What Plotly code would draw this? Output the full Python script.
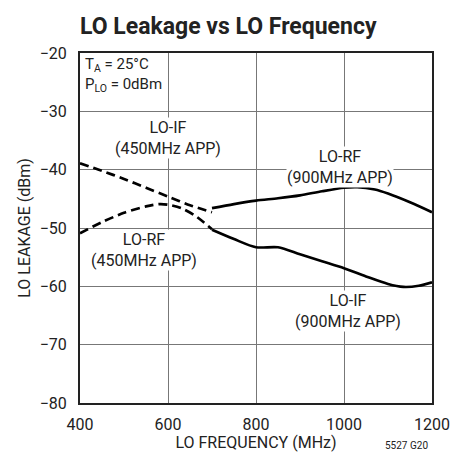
import plotly.graph_objects as go

# LO-IF, 450MHz application (dashed)
if450_freq = [400, 450, 500, 550, 600, 650, 700]
if450_dbm = [-38.9, -40.2, -41.6, -43.1, -44.6, -46.1, -47.3]

# LO-RF, 450MHz application (dashed)
rf450_freq = [400, 450, 500, 550, 580, 600, 630, 660, 700]
rf450_dbm = [-50.9, -49.0, -47.4, -46.3, -45.9, -46.0, -46.6, -47.8, -50.2]

# LO-RF, 900MHz application (solid)
rf900_freq = [700, 750, 800, 850, 900, 950, 1000, 1030, 1070, 1100, 1150, 1200]
rf900_dbm = [-46.6, -45.9, -45.3, -44.9, -44.4, -43.7, -43.1, -43.0, -43.4, -44.1, -45.6, -47.3]

# LO-IF, 900MHz application (solid)
if900_freq = [700, 750, 800, 850, 900, 950, 1000, 1050, 1100, 1135, 1170, 1200]
if900_dbm = [-50.3, -51.9, -53.3, -53.3, -54.5, -55.7, -56.9, -58.3, -59.6, -60.1, -59.9, -59.3]

x_ticks = [400, 600, 800, 1000, 1200]
y_ticks = [-80, -70, -60, -50, -40, -30, -20]
y_tick_text = ["\u221280", "\u221270", "\u221260", "\u221250", "\u221240", "\u221230", "\u221220"]

FONT = "Roboto, Arial, sans-serif"
INK = "#222"

fig = go.Figure()
line_style = dict(color="black", width=2.7, shape="spline", smoothing=0.8)
fig.add_trace(go.Scatter(x=if450_freq, y=if450_dbm, mode="lines",
                         line=dict(dash="9px,5px", **line_style)))
fig.add_trace(go.Scatter(x=rf450_freq, y=rf450_dbm, mode="lines",
                         line=dict(dash="9px,5px", **line_style)))
fig.add_trace(go.Scatter(x=rf900_freq, y=rf900_dbm, mode="lines", line=line_style))
fig.add_trace(go.Scatter(x=if900_freq, y=if900_dbm, mode="lines", line=line_style))

ann_font = dict(family=FONT, size=16, color=INK)
annotations = [
    dict(x=0.012, y=0.997, xref="paper", yref="paper", xanchor="left", yanchor="top",
         text="T<sub>A</sub> = 25°C<br>P<sub>LO</sub> = 0dBm", align="left",
         showarrow=False, font=dict(family=FONT, size=15, color=INK),
         bgcolor="white", borderpad=0),
    dict(x=600, y=-34.6, text="LO-IF<br>(450MHz APP)", showarrow=False, font=ann_font,
         bgcolor="white", borderpad=0),
    dict(x=990, y=-39.5, text="LO-RF<br>(900MHz APP)", showarrow=False, font=ann_font,
         bgcolor="white", borderpad=0),
    dict(x=545, y=-53.8, text="LO-RF<br>(450MHz APP)", showarrow=False, font=ann_font,
         bgcolor="white", borderpad=0),
    dict(x=1010, y=-64.3, text="LO-IF<br>(900MHz APP)", showarrow=False, font=ann_font,
         bgcolor="white", borderpad=0),
    dict(x=0.995, y=-0.12, xref="paper", yref="paper", xanchor="right", yanchor="middle",
         text="5527 G20", showarrow=False, font=dict(family=FONT, size=10, color=INK)),
]

fig.update_layout(
    width=448, height=444,
    margin=dict(l=72, r=24, t=45, b=49),
    paper_bgcolor="white", plot_bgcolor="white",
    showlegend=False,
    title=dict(text="<b>LO Leakage vs LO Frequency</b>", x=72/448, xanchor="left",
               y=1 - 18/444, yanchor="middle",
               font=dict(family=FONT, size=23, color=INK)),
    annotations=annotations,
    font=dict(family=FONT, color=INK),
)
fig.update_xaxes(range=[400, 1200], tickvals=x_ticks, ticks="", showgrid=True,
                 gridcolor="#777", gridwidth=1.3, showline=True, linecolor=INK,
                 linewidth=2, mirror=True, zeroline=False, ticklabelstandoff=6,
                 automargin=False,
                 tickfont=dict(family=FONT, size=16, color=INK),
                 title=dict(text="LO FREQUENCY (MHz)", font=dict(family=FONT, size=16, color=INK),
                            standoff=2))
fig.update_yaxes(range=[-80, -20], tickvals=y_ticks, ticktext=y_tick_text, ticks="",
                 showgrid=True, gridcolor="#777", gridwidth=1.3, showline=True,
                 linecolor=INK, linewidth=2, mirror=True, zeroline=False,
                 ticklabelstandoff=8, automargin=False,
                 tickfont=dict(family=FONT, size=16, color=INK),
                 title=dict(text="LO LEAKAGE (dBm)", font=dict(family=FONT, size=16, color=INK),
                            standoff=5))

fig.write_html("out.html")
